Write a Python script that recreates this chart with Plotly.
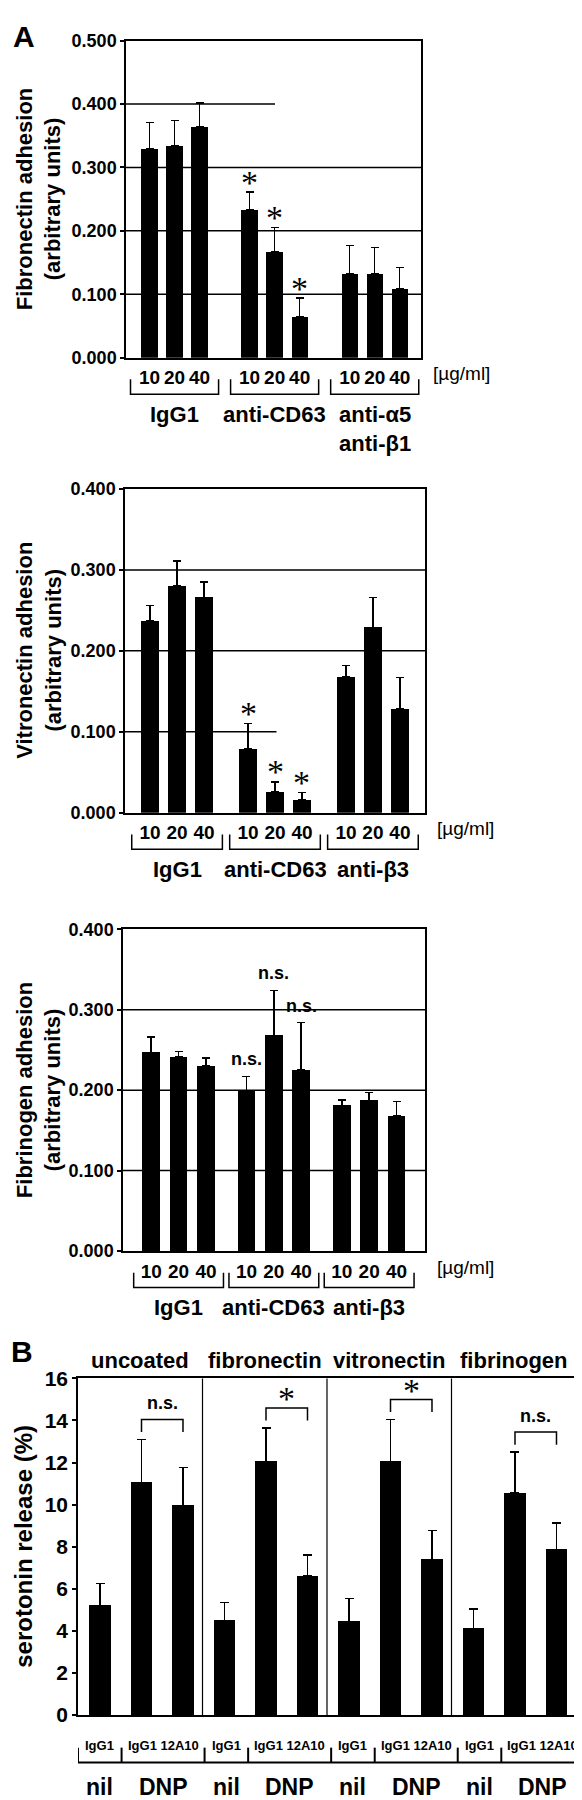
import plotly.graph_objects as go

W, H = 582, 1800
FONT = "Liberation Sans, Arial, Helvetica, sans-serif"

# ---------------- data ----------------
doses = ["10", "20", "40"]

fn_groups = ["IgG1", "anti-CD63", "anti-α5<br>anti-β1"]
fn_values = [0.330, 0.334, 0.365, 0.234, 0.167, 0.064, 0.133, 0.133, 0.109]
fn_errors = [0.041, 0.040, 0.037, 0.027, 0.038, 0.030, 0.044, 0.041, 0.033]
fn_marks = ["", "", "", "*", "*", "*", "", "", ""]

vn_groups = ["IgG1", "anti-CD63", "anti-β3"]
vn_values = [0.237, 0.280, 0.266, 0.079, 0.026, 0.016, 0.168, 0.229, 0.128]
vn_errors = [0.019, 0.031, 0.019, 0.031, 0.012, 0.009, 0.014, 0.037, 0.039]
vn_marks = ["", "", "", "*", "*", "*", "", "", ""]

fg_groups = ["IgG1", "anti-CD63", "anti-β3"]
fg_values = [0.247, 0.241, 0.230, 0.199, 0.268, 0.225, 0.181, 0.187, 0.168]
fg_errors = [0.019, 0.007, 0.010, 0.018, 0.056, 0.059, 0.007, 0.010, 0.018]
fg_marks = ["", "", "", "n.s.", "n.s.", "n.s.", "", "", ""]

coatings = ["uncoated", "fibronectin", "vitronectin", "fibrinogen"]
antibody_labels = ["IgG1", "IgG1 12A10"]
stim_labels = ["nil", "DNP"]
sero_values = [[5.2, 11.05, 9.95], [4.5, 12.05, 6.6], [4.45, 12.05, 7.4], [4.1, 10.55, 7.85]]
sero_errors = [[1.06, 2.05, 1.82], [0.84, 1.6, 1.0], [1.09, 2.0, 1.38], [0.94, 1.95, 1.28]]
sig_labels = ["n.s.", "*", "*", "n.s."]


def px_x(x):
    return x / W


def px_y(y):
    return 1 - y / H


def font(size, bold=True, family=FONT):
    return dict(family=family, size=size, color="black", weight="bold" if bold else "normal")


STAR_FONT = font(34, bold=False, family="Liberation Serif, Times New Roman, serif")

panels = [
    dict(values=fn_values, errors=fn_errors, marks=fn_marks, groups=fn_groups,
         title="Fibronectin adhesion<br>(arbitrary units)", ymax=0.5,
         box=(118, 413, 21, 342), step=4.0, xr=[-0.94, 10.85], ext=0.76, partial=0.4),
    dict(values=vn_values, errors=vn_errors, marks=vn_marks, groups=vn_groups,
         title="Vitronectin adhesion<br>(arbitrary units)", ymax=0.4,
         box=(117, 417, 475, 803), step=3.63, xr=[-0.93, 10.19], ext=0.68, partial=0.1),
    dict(values=fg_values, errors=fg_errors, marks=fg_marks, groups=fg_groups,
         title="Fibrinogen adhesion<br>(arbitrary units)", ymax=0.4,
         box=(115, 417, 921, 1247), step=3.48, xr=[-1.03, 10.0], ext=0.64, partial=None),
]

fig = go.Figure()
shapes = []
annotations = []

for i, p in enumerate(panels):
    n = "" if i == 0 else str(i + 1)
    xa, ya = "x" + n, "y" + n
    x0, x1, y0, y1 = p["box"]
    hpx = y1 - y0
    pos = [g * p["step"] + d for g in range(3) for d in range(3)]
    fig.add_trace(go.Bar(
        x=pos, y=p["values"], xaxis=xa, yaxis=ya, width=0.65,
        marker=dict(color="black", line=dict(width=0)),
        error_y=dict(type="data", symmetric=False, array=p["errors"],
                     arrayminus=[0] * len(p["values"]), color="black",
                     thickness=1.5, width=4),
        hoverinfo="skip",
    ))
    fig.update_layout(**{
        "xaxis" + n: dict(domain=[px_x(x0), px_x(x1)], range=p["xr"], anchor=ya,
                          showline=True, mirror=True, linecolor="black", linewidth=1.5,
                          showgrid=False, zeroline=False, tickvals=pos,
                          ticktext=doses * 3, ticks="", tickfont=font(19),
                          ticklabelstandoff=2),
        "yaxis" + n: dict(domain=[px_y(y1), px_y(y0)], range=[0, p["ymax"]], anchor=xa,
                          dtick=0.1, tickformat=".3f", showline=True, mirror=True,
                          linecolor="black", linewidth=1.5, showgrid=False,
                          zeroline=False, ticks="outside", ticklen=4, tickwidth=1.5,
                          tickcolor="black", tickfont=font(18)),
    })
    # horizontal grid lines
    v = 0.1
    while v < p["ymax"] - 1e-9:
        xe = 0.505 if (p["partial"] is not None and abs(v - p["partial"]) < 1e-9) else 1
        shapes.append(dict(type="line", xref=xa + " domain", yref=ya, x0=0, x1=xe,
                           y0=v, y1=v, line=dict(color="black", width=1.5), layer="below"))
        v += 0.1
    # significance marks
    for k, m in enumerate(p["marks"]):
        if m:
            star = m == "*"
            annotations.append(dict(
                x=pos[k], y=p["values"][k] + p["errors"][k], xref=xa, yref=ya,
                text=m, showarrow=False, yanchor="middle",
                yshift=10 if star else 17,
                font=STAR_FONT if star else font(18)))
    # brackets and group labels
    for g in range(3):
        a = g * p["step"] - p["ext"]
        b = g * p["step"] + 2 + p["ext"]
        ytop, ybot = -22 / hpx, -37 / hpx
        shapes.append(dict(type="path", xref=xa, yref=ya + " domain",
                           path=f"M {a},{ytop} L {a},{ybot} L {b},{ybot} L {b},{ytop}",
                           line=dict(color="black", width=1.5)))
        annotations.append(dict(x=(a + b) / 2, y=0, xref=xa, yref=ya + " domain",
                                text=p["groups"][g], showarrow=False, yanchor="top",
                                yshift=-42, font=font(22)))
    annotations.append(dict(x=1, y=0, xref=xa + " domain", yref=ya + " domain",
                            text="[µg/ml]", showarrow=False, xanchor="left",
                            yanchor="middle", xshift=10, yshift=-16,
                            font=font(19, bold=False)))
    annotations.append(dict(x=px_x(31), y=0.5, xref="paper", yref=ya + " domain",
                            text=p["title"], textangle=-90, showarrow=False,
                            xanchor="center", yanchor="middle", font=font(22)))

# ---------------- panel B ----------------
bx0, bx1, by0, by1 = 70, 568, 1376, 1717
bh = by1 - by0
bpos = []
bvals = []
berrs = []
for s in range(4):
    for d in range(3):
        bpos.append(3 * s + 0.53 + d)
        bvals.append(sero_values[s][d])
        berrs.append(sero_errors[s][d])
fig.add_trace(go.Bar(
    x=bpos, y=bvals, xaxis="x4", yaxis="y4", width=0.52,
    marker=dict(color="black", line=dict(width=0)),
    error_y=dict(type="data", symmetric=False, array=berrs, arrayminus=[0] * len(bvals),
                 color="black", thickness=1.5, width=4.5),
    hoverinfo="skip",
))
fig.update_layout(
    xaxis4=dict(domain=[px_x(bx0), px_x(bx1)], range=[0, 12], anchor="y4",
                showline=True, mirror=True, linecolor="black", linewidth=1.5,
                showgrid=False, zeroline=False, showticklabels=False, ticks=""),
    yaxis4=dict(domain=[px_y(by1), px_y(by0)], range=[0, 16], anchor="x4", dtick=2,
                showline=True, mirror=True, linecolor="black", linewidth=1.5,
                showgrid=False, zeroline=False, ticks="outside", ticklen=4,
                tickwidth=1.5, tickcolor="black", tickfont=font(21)),
)
for s in range(1, 4):
    shapes.append(dict(type="line", xref="x4", yref="y4 domain", x0=3 * s, x1=3 * s,
                       y0=0, y1=1, line=dict(color="black", width=1.2)))
for s in range(4):
    annotations.append(dict(x=3 * s + 1.5, y=1, xref="x4", yref="y4 domain",
                            text=coatings[s], showarrow=False, yanchor="middle",
                            yshift=18, font=font(22)))
    # significance bracket between DNP bars
    xa_, xb_ = 3 * s + 1.53, 3 * s + 2.53
    top = max(sero_values[s][1] + sero_errors[s][1], sero_values[s][2] + sero_errors[s][2])
    yb = top + 0.95
    shapes.append(dict(type="path", xref="x4", yref="y4",
                       path=f"M {xa_},{yb - 0.6} L {xa_},{yb} L {xb_},{yb} L {xb_},{yb - 0.6}",
                       line=dict(color="black", width=1.5)))
    star = sig_labels[s] == "*"
    annotations.append(dict(x=(xa_ + xb_) / 2, y=yb, xref="x4", yref="y4",
                            text=sig_labels[s], showarrow=False, yanchor="middle",
                            yshift=9 if star else 16,
                            font=STAR_FONT if star else font(18)))
    # bracket row below
    st = 3.05 * s
    sp = st + 1.05
    en = 3.05 * (s + 1)
    ylo, yhi = -48 / bh, -33 / bh
    annotations.append(dict(x=(st + sp) / 2, y=0, xref="x4", yref="y4 domain",
                            text=antibody_labels[0], showarrow=False, yanchor="middle",
                            yshift=-30, font=font(13)))
    annotations.append(dict(x=(sp + en) / 2, y=0, xref="x4", yref="y4 domain",
                            text=antibody_labels[1], showarrow=False, yanchor="middle",
                            yshift=-30, font=font(13)))
    annotations.append(dict(x=(st + sp) / 2, y=0, xref="x4", yref="y4 domain",
                            text=stim_labels[0], showarrow=False, yanchor="middle",
                            yshift=-72, font=font(23)))
    annotations.append(dict(x=(sp + en) / 2, y=0, xref="x4", yref="y4 domain",
                            text=stim_labels[1], showarrow=False, yanchor="middle",
                            yshift=-72, font=font(23)))
    for t in (st, sp):
        shapes.append(dict(type="line", xref="x4", yref="y4 domain", x0=t, x1=t,
                           y0=ylo, y1=yhi, line=dict(color="black", width=2)))
shapes.append(dict(type="line", xref="x4", yref="y4 domain", x0=12.2, x1=12.2,
                   y0=-48 / bh, y1=-33 / bh, line=dict(color="black", width=2)))
shapes.append(dict(type="line", xref="x4", yref="y4 domain", x0=0, x1=12.2,
                   y0=-48 / bh, y1=-48 / bh, line=dict(color="black", width=2)))

annotations.append(dict(x=px_x(16), y=0.5, xref="paper", yref="y4 domain",
                        text="serotonin release (%)", textangle=-90, showarrow=False,
                        xanchor="center", yanchor="middle", font=font(24)))

annotations.append(dict(x=px_x(3), y=px_y(17), xref="paper", yref="paper", text="A",
                        showarrow=False, xanchor="left", yanchor="middle", font=font(30)))
annotations.append(dict(x=px_x(1), y=px_y(1349), xref="paper", yref="paper", text="B",
                        showarrow=False, xanchor="left", yanchor="middle", font=font(30)))

fig.update_layout(
    width=W, height=H, margin=dict(l=0, r=0, t=0, b=0),
    paper_bgcolor="white", plot_bgcolor="white", showlegend=False,
    shapes=shapes, annotations=annotations, bargap=0,
    font=dict(family=FONT, color="black"),
)

fig.write_html("out.html")
